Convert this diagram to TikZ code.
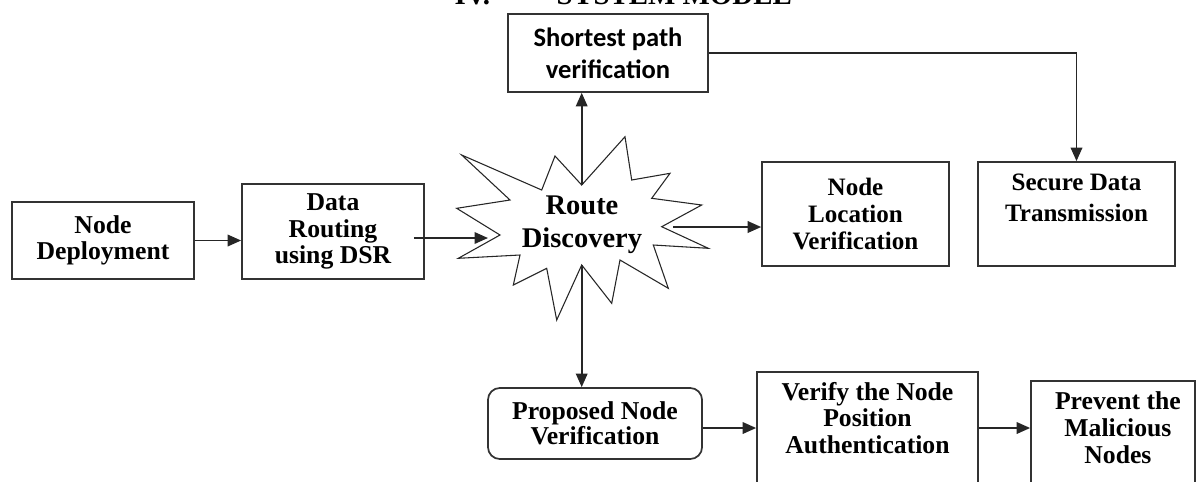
\documentclass[tikz,border=0pt]{standalone}
\usepackage{fontspec}
\setmainfont{Liberation Serif}
\newfontfamily\calibrifont{Carlito}
\usetikzlibrary{arrows.meta}

\tikzset{
    box/.style={draw=black!80, line width=0.8pt, inner sep=0pt, align=center,
        font=\fontsize{12}{12.4}\selectfont\bfseries},
    boxtext/.style={inner sep=0pt, align=center, anchor=north,
        font=\fontsize{12}{12.4}\selectfont\bfseries},
    arr/.style={draw=black!85, line width=0.8pt, -{Triangle[length=6.3pt,width=5.4pt]}}
}

\begin{document}
\begin{tikzpicture}[x=0.467pt, y=-0.467pt]
    \useasboundingbox (0,0) rectangle (1196,481);
    \clip (0,0) rectangle (1196,481);

    \node[anchor=base west, font=\fontsize{13.5}{16}\selectfont\bfseries] (title) at (447,4) {IV.\hspace{31pt}SYSTEM MODEL};

    \node[box, minimum width=85pt, minimum height=36pt] (nd) at (103,240.5) {Node\\Deployment};
    \node[box, minimum width=85pt, minimum height=44.4pt] (dr) at (333,231.5) {Data\\Routing\\using DSR};
    \node[box, minimum width=93.4pt, minimum height=36.4pt, font=\fontsize{12.4}{15}\selectfont\calibrifont\bfseries] (sp) at (608,53) {Shortest path\\verification};
    \node[box, minimum width=87.3pt, minimum height=48.6pt, font=\fontsize{11.7}{12.4}\selectfont\bfseries] (nl) at (855.5,214) {Node\\Location\\Verification};
    \node[box, minimum width=92pt, minimum height=48.6pt] (sd) at (1076.5,214) {};
    \node[boxtext, font=\fontsize{11.7}{14.5}\selectfont\bfseries] (sdtext) at ([yshift=-5.8pt]sd.north) {Secure Data\\Transmission};

    \draw[black!85, line width=0.5pt, fill=white] (461.7,155) -- (541.7,190) -- (555,156) -- (581.7,185) -- (625,136.7) -- (631.7,180)
        -- (670,173.3) -- (651.7,198.3) -- (701.7,205) -- (661.7,226.7) -- (708.3,248.3) -- (653.3,245)
        -- (668.3,288.3) -- (620,260) -- (611.7,303.3) -- (581.7,265) -- (556.7,320) -- (546.7,268.3)
        -- (513.3,285) -- (520,255) -- (458.3,258.3) -- (500,235) -- (456.7,208.3) -- (510,200) -- cycle;
    \node[align=center, inner sep=0pt, font=\fontsize{13.3}{15.4}\selectfont\bfseries] (rd) at (582,225) {Route\\Discovery};
    \coordinate (rdW) at (488,238);
    \coordinate (rdE) at (673,227);
    \coordinate (rdN) at (581.7,185);
    \coordinate (rdS) at (581.7,265);

    \node[box, rounded corners=5.6pt, minimum width=100pt, minimum height=33.2pt, font=\fontsize{12}{11.7}\selectfont\bfseries] (pn) at (595,423.5) {Proposed Node\\Verification};
    \node[box, minimum width=103.2pt, minimum height=73.8pt] (vn) at (867.5,451) {};
    \node[boxtext] (vntext) at ([yshift=-4.9pt]vn.north) {Verify the Node\\Position\\Authentication};
    \node[box, minimum width=76.6pt, minimum height=69.6pt] (pm) at (1113,455.5) {};
    \node[boxtext] (pmtext) at ([xshift=2.3pt, yshift=-5.4pt]pm.north) {Prevent the\\Malicious\\Nodes};

    \coordinate (drout) at ([xshift=-5.1pt]dr.east);
    \coordinate (pnout) at ([yshift=-2.1pt]pn.east);

    \draw[arr] (nd.east) -- (nd.east -| dr.west);
    \draw[arr] (drout |- rdW) -- (rdW);
    \draw[arr] (rdE) -- (rdE -| nl.west);
    \draw[arr] (rdN) -- (rdN |- sp.south);
    \draw[arr] (sp.east) -| (sd.north);
    \draw[arr] (rdS) -- (rdS |- pn.north);
    \draw[arr] (pnout) -- (pnout -| vn.west);
    \draw[arr] (vn.east |- pnout) -- (pnout -| pm.west);
\end{tikzpicture}
\end{document}
